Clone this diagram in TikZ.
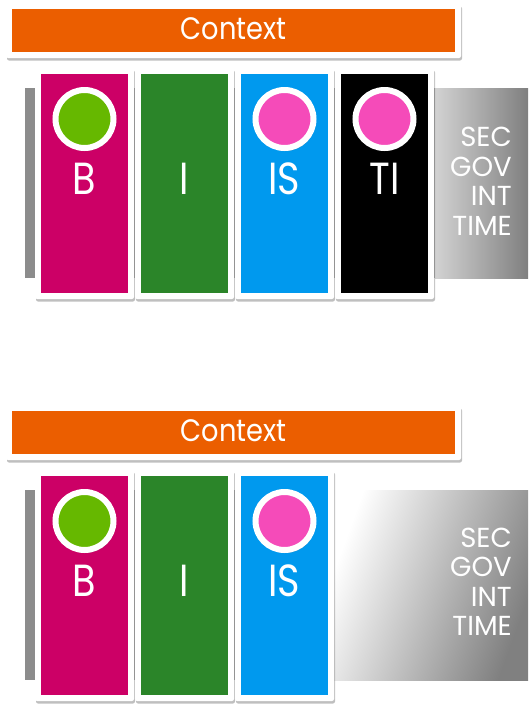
\documentclass[tikz,border=0pt]{standalone}
\usepackage{fontspec}
\setmainfont{Poppins}
\usetikzlibrary{shadows,positioning}
\definecolor{ctxorange}{HTML}{EB5E00}
\definecolor{colmagenta}{HTML}{CC0066}
\definecolor{colgreen}{HTML}{2B8529}
\definecolor{colblue}{HTML}{0099EE}
\definecolor{dotgreen}{HTML}{66B800}
\definecolor{dotpink}{HTML}{F54BB9}
\tikzstyle{ctxframe} = [rectangle, fill=white, rounded corners=2pt, minimum width=455pt, minimum height=54pt, inner sep=0pt, drop shadow={shadow xshift=1pt, shadow yshift=-2.5pt, opacity=.5}]
\tikzstyle{ctxbar} = [rectangle, fill=ctxorange, minimum width=443pt, minimum height=43pt, inner sep=0pt]
\tikzstyle{ctxtext} = [text=white, anchor=base, inner sep=0pt, font=\fontsize{31}{31}\selectfont\addfontfeature{FakeStretch=0.88}]
\tikzstyle{colframe} = [rectangle, fill=white, rounded corners=2pt, minimum width=99pt, minimum height=231pt, inner sep=0pt, drop shadow={shadow xshift=1pt, shadow yshift=-2.5pt, opacity=.5}]
\tikzstyle{column} = [rectangle, minimum width=87pt, minimum height=219pt, inner sep=0pt]
\tikzstyle{dot} = [circle, draw=white, line width=6pt, minimum size=58pt, inner sep=0pt, drop shadow={shadow xshift=1.5pt, shadow yshift=-3pt, opacity=.35}]
\tikzstyle{letter} = [text=white, anchor=base, inner sep=0pt, font=\fontsize{45}{45}\selectfont\addfontfeature{FakeStretch=0.85}]
\tikzstyle{tags} = [text=white, anchor=east, align=right, inner sep=0pt, font=\fontsize{27.5}{29.5}\selectfont]

\begin{document}
\begin{tikzpicture}[x=1pt,y=-1pt]
\useasboundingbox (0,0) rectangle (528,710);

% upper panel
\fill[gray!90] (25,88) rectangle (528,278);
\shade[left color=gray!35, right color=gray!100] (435,88) rectangle (528,278);
\node[ctxframe] (ctxframeA) at (233.5,31) {};
\node[ctxbar] (ctxA) at (233.5,30.5) {};
\node[ctxtext] (ctxtextA) at (233.5,39) {Context};

\node[colframe] (frameBA) at (84.5,183.5) {};
\node[colframe] (frameIA) at (184.5,183.5) {};
\node[colframe] (frameISA) at (284.5,183.5) {};
\node[colframe] (frameTIA) at (384.5,183.5) {};
\node[column, fill=colmagenta] (colBA) at (84.5,183.5) {};
\node[column, fill=colgreen] (colIA) at (184.5,183.5) {};
\node[column, fill=colblue] (colISA) at (284.5,183.5) {};
\node[column, fill=black] (colTIA) at (384.5,183.5) {};
\node[dot, fill=dotgreen] (dotBA) at (84.5,119) {};
\node[dot, fill=dotpink] (dotISA) at (284.5,119) {};
\node[dot, fill=dotpink] (dotTIA) at (384.5,119) {};
\node[letter] (lblBA) at (84.5,194) {B};
\node[letter] (lblIA) at (184.5,194) {I};
\node[letter] (lblISA) at (284.5,194) {IS};
\node[letter] (lblTIA) at (384.5,194) {TI};
\node[tags] (tagsA) at (512,181.5) {SEC\\GOV\\INT\\TIME};

% lower panel
\fill[gray!90] (25,490) rectangle (334,680);
\shade[left color=white, right color=gray!100, shading angle=70] (334,490) rectangle (528,680);
\node[ctxframe] (ctxframeB) at (233.5,433) {};
\node[ctxbar] (ctxB) at (233.5,432.5) {};
\node[ctxtext] (ctxtextB) at (233.5,441) {Context};

\node[colframe] (frameBB) at (84.5,585.5) {};
\node[colframe] (frameIB) at (184.5,585.5) {};
\node[colframe] (frameISB) at (284.5,585.5) {};
\node[column, fill=colmagenta] (colBB) at (84.5,585.5) {};
\node[column, fill=colgreen] (colIB) at (184.5,585.5) {};
\node[column, fill=colblue] (colISB) at (284.5,585.5) {};
\node[dot, fill=dotgreen] (dotBB) at (84.5,521) {};
\node[dot, fill=dotpink] (dotISB) at (284.5,521) {};
\node[letter] (lblBB) at (84.5,596) {B};
\node[letter] (lblIB) at (184.5,596) {I};
\node[letter] (lblISB) at (284.5,596) {IS};
\node[tags] (tagsB) at (512,582) {SEC\\GOV\\INT\\TIME};
\end{tikzpicture}
\end{document}
